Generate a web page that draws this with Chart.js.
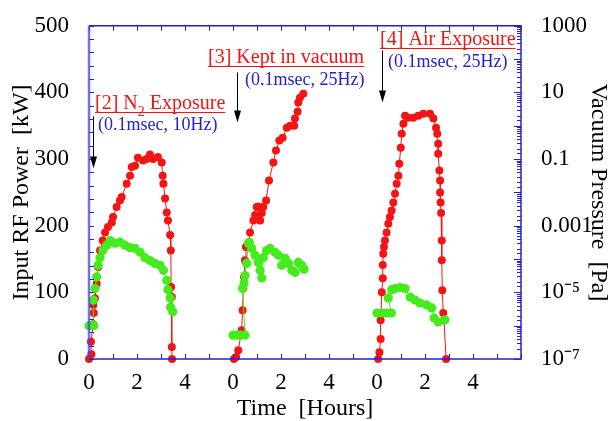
<!DOCTYPE html>
<html>
<head>
<meta charset="utf-8">
<script src="https://cdn.jsdelivr.net/npm/chart.js@4.4.0/dist/chart.umd.min.js"></script>
<style>
  body { margin: 0; background: #fff; }
</style>
</head>
<body>
<canvas id="mycanvas" width="611" height="421"></canvas>
<script>
// each run is plotted on a shared axis, starting at these hours
var runStart = [0, 6, 12];

// run [2] N2 exposure
var redT1 = [0.0, 0.1, 0.08, 0.18, 0.2, 0.18, 0.25, 0.32, 0.38, 0.46, 0.57, 0.67, 0.79, 0.95, 1.0, 1.15, 1.29, 1.36, 1.57, 1.71,
             1.78, 1.92, 2.04, 2.25, 2.4, 2.54, 2.67, 2.87, 3.03, 3.07, 3.1, 3.17, 3.24, 3.29, 3.38, 3.41, 3.42, 3.45, 3.45, 3.46];
var redP1 = [0, 7, 26, 52, 69, 81, 91, 113, 138, 163, 178, 190, 198, 205, 213, 228, 238, 243, 263, 275,
             288, 290, 302, 298, 300, 307, 300, 303, 295, 275, 263, 241, 220, 208, 186, 163, 108, 93, 18, 0];
var grnT1 = [0, 0.1, 0.2, 0.18, 0.25, 0.32, 0.38, 0.46, 0.58, 0.74, 0.88, 1.08, 1.29, 1.5, 1.71, 1.92, 2.13, 2.33,
             2.54, 2.75, 2.96, 3.1, 3.24, 3.29, 3.38, 3.4, 3.49];
var grnV1 = [1e-6, 1e-6, 1e-6, 5.9e-6, 1.3e-5, 2.9e-5, 6.5e-5, 1.1e-4, 1.8e-4, 2.6e-4, 3.6e-4, 3.0e-4, 3.2e-4, 2.6e-4,
             2.2e-4, 2.1e-4, 1.6e-4, 1.1e-4, 9e-5, 7.4e-5, 6.5e-5, 4.6e-5, 2.3e-5, 1.2e-5, 6.8e-6, 3.6e-6, 2.6e-6];

// run [3] kept in vacuum
var redT2 = [0.04, 0.13, 0.22, 0.36, 0.4, 0.43, 0.46, 0.5, 0.54, 0.64, 0.71, 0.85, 0.92, 0.99, 1.05, 1.13, 1.2, 1.26, 1.38, 1.5,
             1.68, 1.79, 1.93, 2.07, 2.24, 2.38, 2.55, 2.58, 2.69, 2.72, 2.79, 2.93];
var redP2 = [0, 3, 13, 43, 73, 106, 123, 148, 168, 173, 190, 208, 216, 228, 229, 208, 219, 228, 238, 268,
             295, 313, 328, 332, 347, 350, 350, 361, 371, 385, 392, 398];
var grnT2 = [0, 0.15, 0.3, 0.5, 0.4, 0.46, 0.5, 0.57, 0.64, 0.68, 0.78, 0.92, 1.05, 1.13, 1.2, 1.26, 1.4, 1.54,
             1.75, 1.89, 2.03, 2.17, 2.31, 2.45, 2.59, 2.72, 2.86, 2.96];
var grnV2 = [5.2e-7, 5.2e-7, 5.2e-7, 5.2e-7, 1.3e-5, 1.9e-5, 3.2e-5, 7.4e-5, 3.0e-4, 3.2e-4, 2.1e-4, 1.3e-4, 7.9e-5, 4.6e-5,
             2.7e-5, 1.1e-4, 1.8e-4, 2.1e-4, 1.6e-4, 1.3e-4, 6.5e-5, 1.05e-4, 7.4e-5, 4.6e-5, 4e-5, 7.9e-5, 6.5e-5, 4.9e-5];

// run [4] air exposure
var redT3 = [0.05, 0.1, 0.15, 0.15, 0.2, 0.24, 0.24, 0.26, 0.29, 0.33, 0.4, 0.47, 0.54, 0.61, 0.68, 0.75, 0.82, 0.89, 0.93, 0.99,
             1.03, 1.1, 1.17, 1.29, 1.51, 1.72, 1.93, 2.21, 2.35, 2.46, 2.51, 2.55, 2.55, 2.6, 2.63, 2.63, 2.65, 2.67, 2.7, 2.7,
             2.72, 2.76, 2.79, 2.88];
var redP3 = [0, 10, 30, 58, 100, 121, 141, 158, 168, 178, 190, 203, 213, 223, 235, 248, 263, 275, 293, 317,
             338, 353, 365, 362, 362, 365, 368, 368, 361, 347, 338, 323, 308, 283, 268, 250, 235, 219, 178, 148,
             103, 69, 58, 0];
var grnT3 = [0, 0.2, 0.4, 0.6, 0.47, 0.61, 0.75, 0.96, 1.17, 1.38, 1.58, 1.79, 2.07, 2.28, 2.38, 2.55, 2.83];
var grnV3 = [2.4e-6, 2.4e-6, 2.4e-6, 2.4e-6, 6.8e-6, 1.2e-5, 1.3e-5, 1.4e-5, 1.3e-5, 7.2e-6, 5.9e-6, 4.8e-6, 4.2e-6,
             3.4e-6, 1.7e-6, 1.3e-6, 1.5e-6];

// tick labels
var hourLabels = ['0', '', '2', '', '4', '', '0', '', '2', '', '4', '', '0', '', '2', '', '4', '', ''];
var pressureTicks = [1e3, 10, 0.1, 1e-3, 1e-5, 1e-7];
var pressureTickText = ['1000', '10', '0.1', '0.001', '10\u207B\u2075', '10\u207B\u2077'];

var red = 'rgb(245,20,20)';
var green = 'rgb(70,235,30)';
var blue = 'rgb(35,35,200)';

Chart.defaults.font.family = '"Liberation Serif", "Times New Roman", serif';
Chart.defaults.color = '#000';

function points(start, t, v) {
    var out = [];
    for (var i in t) {
        out.push({x: start + t[i], y: v[i]});
    }
    return out;
}

var datasets = [];
var redT = [redT1, redT2, redT3], redP = [redP1, redP2, redP3];
var grnT = [grnT1, grnT2, grnT3], grnV = [grnV1, grnV2, grnV3];
for (var r = 0; r < 3; r++) {
    datasets.push({
        data: points(runStart[r], grnT[r], grnV[r]),
        yAxisID: 'y1',
        borderColor: green,
        backgroundColor: green,
        borderWidth: 1,
        pointRadius: 4.6,
        pointBorderWidth: 0,
        showLine: true,
        clip: false,
        order: 1
    });
    datasets.push({
        data: points(runStart[r], redT[r], redP[r]),
        yAxisID: 'y',
        borderColor: red,
        backgroundColor: red,
        borderWidth: 1,
        pointRadius: 4,
        pointBorderWidth: 0,
        showLine: true,
        clip: false,
        order: 2
    });
}

function isDecade(v) {
    var e = Math.log10(v);
    return Math.abs(e - Math.round(e)) < 1e-6;
}

// inward tick marks on all four sides plus the blue frame
var frameTicks = {
    id: 'frameTicks',
    afterDraw: function (chart) {
        var ctx = chart.ctx, a = chart.chartArea, s = chart.scales;
        ctx.save();
        ctx.strokeStyle = blue;
        ctx.lineWidth = 1;
        ctx.beginPath();
        s.x.ticks.forEach(function (t) {
            var px = Math.round(s.x.getPixelForValue(t.value)) + 0.5;
            ctx.moveTo(px, a.bottom); ctx.lineTo(px, a.bottom - 5);
            ctx.moveTo(px, a.top); ctx.lineTo(px, a.top + 5);
        });
        s.y.ticks.forEach(function (t) {
            var py = Math.round(s.y.getPixelForValue(t.value)) + 0.5;
            ctx.moveTo(a.left, py); ctx.lineTo(a.left + 5, py);
        });
        s.y1.ticks.forEach(function (t) {
            var py = Math.round(s.y1.getPixelForValue(t.value)) + 0.5;
            var len = isDecade(t.value) ? 7 : 4;
            ctx.moveTo(a.right, py); ctx.lineTo(a.right - len, py);
        });
        ctx.stroke();
        ctx.lineWidth = 1.5;
        ctx.beginPath();
        ctx.moveTo(a.left, a.top); ctx.lineTo(a.right, a.top);
        ctx.lineTo(a.right, a.bottom); ctx.lineTo(a.left, a.bottom);
        ctx.stroke();
        ctx.strokeStyle = 'rgba(70,70,225,0.75)';
        ctx.lineWidth = 2.5;
        ctx.beginPath();
        ctx.moveTo(a.left, a.top); ctx.lineTo(a.left, a.bottom);
        ctx.stroke();
        ctx.restore();
    }
};

// run labels: [hours, kW] anchors for text and arrows
var notes = [
    {title: ['[2] N', '2', ' Exposure'], tx: 0.25, ty: 383, sub: '(0.1msec, 10Hz)', sx: 0.375, sy: 350, ax: 0.15, a1: 364, a2: 286},
    {title: ['[3] Kept in vacuum'], tx: 4.96, ty: 452, sub: '(0.1msec, 25Hz)', sx: 6.5, sy: 419, ax: 6.17, a1: 430, a2: 355},
    {title: ['[4] Air Exposure'], tx: 12.13, ty: 479, sub: '(0.1msec, 25Hz)', sx: 12.46, sy: 445, ax: 12.2, a1: 463, a2: 385}
];

var runNotes = {
    id: 'runNotes',
    afterDraw: function (chart) {
        var ctx = chart.ctx, x = chart.scales.x, y = chart.scales.y;
        var fam = Chart.defaults.font.family;
        ctx.save();
        ctx.textBaseline = 'middle';
        notes.forEach(function (n) {
            var px = x.getPixelForValue(n.tx), py = y.getPixelForValue(n.ty);
            var cx = px;
            ctx.fillStyle = red;
            n.title.forEach(function (part, i) {
                var subPart = n.title.length > 1 && i === 1;
                ctx.font = (subPart ? '14px ' : '20px ') + fam;
                ctx.fillText(part, cx, subPart ? py + 9 : py);
                cx += ctx.measureText(part).width;
            });
            ctx.strokeStyle = red;
            ctx.lineWidth = 1;
            ctx.beginPath();
            ctx.moveTo(px, Math.round(py + 8) + 0.5);
            ctx.lineTo(cx, Math.round(py + 8) + 0.5);
            ctx.stroke();

            ctx.fillStyle = blue;
            ctx.font = '18px ' + fam;
            ctx.fillText(n.sub, x.getPixelForValue(n.sx), y.getPixelForValue(n.sy));

            var ax = Math.round(x.getPixelForValue(n.ax)) + 0.5;
            var y1 = y.getPixelForValue(n.a1), y2 = y.getPixelForValue(n.a2);
            ctx.strokeStyle = '#000';
            ctx.fillStyle = '#000';
            ctx.beginPath();
            ctx.moveTo(ax, y1); ctx.lineTo(ax, y2 - 10);
            ctx.stroke();
            ctx.beginPath();
            ctx.moveTo(ax, y2); ctx.lineTo(ax - 3.5, y2 - 12); ctx.lineTo(ax + 3.5, y2 - 12);
            ctx.closePath();
            ctx.fill();
        });
        ctx.restore();
    }
};

var ctx = document.getElementById('mycanvas');

var chart = new Chart(ctx, {
    type: 'scatter',
    data: {datasets: datasets},
    options: {
        responsive: false,
        animation: false,
        layout: {padding: {top: 25, left: 0, right: 0, bottom: 0}},
        plugins: {legend: {display: false}, tooltip: {enabled: false}},
        scales: {
            x: {
                type: 'linear',
                min: 0,
                max: 18,
                grid: {display: false},
                border: {display: false},
                ticks: {
                    stepSize: 1,
                    autoSkip: false,
                    maxRotation: 0,
                    padding: 2,
                    font: {size: 23},
                    callback: function (v) { return hourLabels[v]; }
                },
                title: {display: true, text: 'Time  [Hours]', font: {size: 24, lineHeight: 1}, padding: {top: 0, bottom: 0}},
                afterFit: function (s) { s.height = 62; }
            },
            y: {
                position: 'left',
                min: 0,
                max: 500,
                grid: {display: false},
                border: {display: false},
                ticks: {
                    stepSize: 20,
                    autoSkip: false,
                    padding: 12,
                    font: {size: 23},
                    callback: function (v) { return v % 100 === 0 ? v : ''; }
                },
                title: {display: true, text: 'Input RF Power  [kW]', font: {size: 24, lineHeight: 1}, padding: {top: 10, bottom: 0}},
                afterFit: function (s) { s.width = 89; }
            },
            y1: {
                type: 'logarithmic',
                position: 'right',
                min: 1e-7,
                max: 1000,
                grid: {display: false},
                border: {display: false},
                ticks: {
                    autoSkip: false,
                    padding: 12,
                    font: {size: 23},
                    callback: function (v) {
                        for (var i = 0; i < pressureTicks.length; i++) {
                            if (Math.abs(v - pressureTicks[i]) / pressureTicks[i] < 1e-6) return pressureTickText[i];
                        }
                        return '';
                    }
                },
                title: {display: true, text: 'Vacuum Pressure  [Pa]', font: {size: 24, lineHeight: 1}, padding: {top: 1, bottom: 0}},
                afterFit: function (s) { s.width = 90; }
            }
        }
    },
    plugins: [frameTicks, runNotes]
});
</script>
</body>
</html>
